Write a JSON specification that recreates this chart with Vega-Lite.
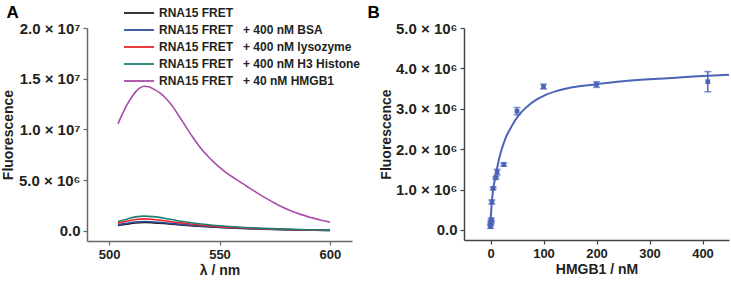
{
  "$schema": "https://vega.github.io/schema/vega-lite/v6.json",
  "padding": {"left": 1, "top": 4, "right": 2, "bottom": 2},
  "background": "white",
  "spacing": 15,
  "config": {
    "view": {"stroke": null},
    "font": "Liberation Sans",
    "axis": {
      "grid": false,
      "domainColor": "#666666",
      "domainWidth": 1.5,
      "tickColor": "#666666",
      "tickWidth": 1.2,
      "tickSize": 4,
      "labelFont": "Liberation Sans",
      "labelFontWeight": "bold",
      "labelFontSize": 13,
      "labelColor": "#231f20",
      "labelPadding": 3,
      "titleFont": "Liberation Sans",
      "titleFontWeight": "bold",
      "titleFontSize": 14,
      "titleColor": "#231f20"
    },
    "title": {"font": "Liberation Sans", "fontSize": 17, "fontWeight": "bold", "color": "#000000"}
  },
  "hconcat": [
    {
      "width": 265,
      "height": 213,
      "title": {"text": "A", "anchor": "start", "frame": "bounds", "offset": -1, "dx": 5},
      "data": {
        "values": [
          {"s": "RNA15 FRET", "w": 504, "f": 520000},
          {"s": "RNA15 FRET", "w": 508, "f": 660000},
          {"s": "RNA15 FRET", "w": 512, "f": 780000},
          {"s": "RNA15 FRET", "w": 516, "f": 820000},
          {"s": "RNA15 FRET", "w": 520, "f": 790000},
          {"s": "RNA15 FRET", "w": 525, "f": 720000},
          {"s": "RNA15 FRET", "w": 530, "f": 630000},
          {"s": "RNA15 FRET", "w": 535, "f": 540000},
          {"s": "RNA15 FRET", "w": 540, "f": 460000},
          {"s": "RNA15 FRET", "w": 550, "f": 330000},
          {"s": "RNA15 FRET", "w": 560, "f": 240000},
          {"s": "RNA15 FRET", "w": 570, "f": 170000},
          {"s": "RNA15 FRET", "w": 580, "f": 110000},
          {"s": "RNA15 FRET", "w": 590, "f": 70000},
          {"s": "RNA15 FRET", "w": 600, "f": 50000},

          {"s": "RNA15 FRET\u00a0\u00a0 + 400 nM BSA", "w": 504, "f": 590000},
          {"s": "RNA15 FRET\u00a0\u00a0 + 400 nM BSA", "w": 508, "f": 740000},
          {"s": "RNA15 FRET\u00a0\u00a0 + 400 nM BSA", "w": 512, "f": 870000},
          {"s": "RNA15 FRET\u00a0\u00a0 + 400 nM BSA", "w": 516, "f": 920000},
          {"s": "RNA15 FRET\u00a0\u00a0 + 400 nM BSA", "w": 520, "f": 880000},
          {"s": "RNA15 FRET\u00a0\u00a0 + 400 nM BSA", "w": 525, "f": 800000},
          {"s": "RNA15 FRET\u00a0\u00a0 + 400 nM BSA", "w": 530, "f": 690000},
          {"s": "RNA15 FRET\u00a0\u00a0 + 400 nM BSA", "w": 535, "f": 590000},
          {"s": "RNA15 FRET\u00a0\u00a0 + 400 nM BSA", "w": 540, "f": 500000},
          {"s": "RNA15 FRET\u00a0\u00a0 + 400 nM BSA", "w": 550, "f": 360000},
          {"s": "RNA15 FRET\u00a0\u00a0 + 400 nM BSA", "w": 560, "f": 260000},
          {"s": "RNA15 FRET\u00a0\u00a0 + 400 nM BSA", "w": 570, "f": 180000},
          {"s": "RNA15 FRET\u00a0\u00a0 + 400 nM BSA", "w": 580, "f": 120000},
          {"s": "RNA15 FRET\u00a0\u00a0 + 400 nM BSA", "w": 590, "f": 80000},
          {"s": "RNA15 FRET\u00a0\u00a0 + 400 nM BSA", "w": 600, "f": 50000},

          {"s": "RNA15 FRET\u00a0\u00a0 + 400 nM lysozyme", "w": 504, "f": 760000},
          {"s": "RNA15 FRET\u00a0\u00a0 + 400 nM lysozyme", "w": 508, "f": 950000},
          {"s": "RNA15 FRET\u00a0\u00a0 + 400 nM lysozyme", "w": 512, "f": 1120000},
          {"s": "RNA15 FRET\u00a0\u00a0 + 400 nM lysozyme", "w": 516, "f": 1180000},
          {"s": "RNA15 FRET\u00a0\u00a0 + 400 nM lysozyme", "w": 520, "f": 1120000},
          {"s": "RNA15 FRET\u00a0\u00a0 + 400 nM lysozyme", "w": 525, "f": 1000000},
          {"s": "RNA15 FRET\u00a0\u00a0 + 400 nM lysozyme", "w": 530, "f": 850000},
          {"s": "RNA15 FRET\u00a0\u00a0 + 400 nM lysozyme", "w": 535, "f": 720000},
          {"s": "RNA15 FRET\u00a0\u00a0 + 400 nM lysozyme", "w": 540, "f": 600000},
          {"s": "RNA15 FRET\u00a0\u00a0 + 400 nM lysozyme", "w": 550, "f": 420000},
          {"s": "RNA15 FRET\u00a0\u00a0 + 400 nM lysozyme", "w": 560, "f": 300000},
          {"s": "RNA15 FRET\u00a0\u00a0 + 400 nM lysozyme", "w": 570, "f": 210000},
          {"s": "RNA15 FRET\u00a0\u00a0 + 400 nM lysozyme", "w": 580, "f": 140000},
          {"s": "RNA15 FRET\u00a0\u00a0 + 400 nM lysozyme", "w": 590, "f": 90000},
          {"s": "RNA15 FRET\u00a0\u00a0 + 400 nM lysozyme", "w": 600, "f": 60000},

          {"s": "RNA15 FRET\u00a0\u00a0 + 400 nM H3 Histone", "w": 504, "f": 920000},
          {"s": "RNA15 FRET\u00a0\u00a0 + 400 nM H3 Histone", "w": 508, "f": 1150000},
          {"s": "RNA15 FRET\u00a0\u00a0 + 400 nM H3 Histone", "w": 512, "f": 1380000},
          {"s": "RNA15 FRET\u00a0\u00a0 + 400 nM H3 Histone", "w": 516, "f": 1450000},
          {"s": "RNA15 FRET\u00a0\u00a0 + 400 nM H3 Histone", "w": 520, "f": 1400000},
          {"s": "RNA15 FRET\u00a0\u00a0 + 400 nM H3 Histone", "w": 525, "f": 1250000},
          {"s": "RNA15 FRET\u00a0\u00a0 + 400 nM H3 Histone", "w": 530, "f": 1050000},
          {"s": "RNA15 FRET\u00a0\u00a0 + 400 nM H3 Histone", "w": 535, "f": 880000},
          {"s": "RNA15 FRET\u00a0\u00a0 + 400 nM H3 Histone", "w": 540, "f": 720000},
          {"s": "RNA15 FRET\u00a0\u00a0 + 400 nM H3 Histone", "w": 550, "f": 500000},
          {"s": "RNA15 FRET\u00a0\u00a0 + 400 nM H3 Histone", "w": 560, "f": 350000},
          {"s": "RNA15 FRET\u00a0\u00a0 + 400 nM H3 Histone", "w": 570, "f": 250000},
          {"s": "RNA15 FRET\u00a0\u00a0 + 400 nM H3 Histone", "w": 580, "f": 170000},
          {"s": "RNA15 FRET\u00a0\u00a0 + 400 nM H3 Histone", "w": 590, "f": 110000},
          {"s": "RNA15 FRET\u00a0\u00a0 + 400 nM H3 Histone", "w": 600, "f": 70000},

          {"s": "RNA15 FRET\u00a0\u00a0 + 40 nM HMGB1", "w": 504, "f": 10540000},
          {"s": "RNA15 FRET\u00a0\u00a0 + 40 nM HMGB1", "w": 506, "f": 11500000},
          {"s": "RNA15 FRET\u00a0\u00a0 + 40 nM HMGB1", "w": 508, "f": 12400000},
          {"s": "RNA15 FRET\u00a0\u00a0 + 40 nM HMGB1", "w": 510, "f": 13100000},
          {"s": "RNA15 FRET\u00a0\u00a0 + 40 nM HMGB1", "w": 512, "f": 13700000},
          {"s": "RNA15 FRET\u00a0\u00a0 + 40 nM HMGB1", "w": 514, "f": 14100000},
          {"s": "RNA15 FRET\u00a0\u00a0 + 40 nM HMGB1", "w": 516, "f": 14250000},
          {"s": "RNA15 FRET\u00a0\u00a0 + 40 nM HMGB1", "w": 518, "f": 14200000},
          {"s": "RNA15 FRET\u00a0\u00a0 + 40 nM HMGB1", "w": 520, "f": 14000000},
          {"s": "RNA15 FRET\u00a0\u00a0 + 40 nM HMGB1", "w": 523, "f": 13600000},
          {"s": "RNA15 FRET\u00a0\u00a0 + 40 nM HMGB1", "w": 526, "f": 13000000},
          {"s": "RNA15 FRET\u00a0\u00a0 + 40 nM HMGB1", "w": 529, "f": 12200000},
          {"s": "RNA15 FRET\u00a0\u00a0 + 40 nM HMGB1", "w": 532, "f": 11200000},
          {"s": "RNA15 FRET\u00a0\u00a0 + 40 nM HMGB1", "w": 535, "f": 10200000},
          {"s": "RNA15 FRET\u00a0\u00a0 + 40 nM HMGB1", "w": 538, "f": 9200000},
          {"s": "RNA15 FRET\u00a0\u00a0 + 40 nM HMGB1", "w": 541, "f": 8300000},
          {"s": "RNA15 FRET\u00a0\u00a0 + 40 nM HMGB1", "w": 545, "f": 7300000},
          {"s": "RNA15 FRET\u00a0\u00a0 + 40 nM HMGB1", "w": 549, "f": 6450000},
          {"s": "RNA15 FRET\u00a0\u00a0 + 40 nM HMGB1", "w": 553, "f": 5750000},
          {"s": "RNA15 FRET\u00a0\u00a0 + 40 nM HMGB1", "w": 557, "f": 5150000},
          {"s": "RNA15 FRET\u00a0\u00a0 + 40 nM HMGB1", "w": 562, "f": 4450000},
          {"s": "RNA15 FRET\u00a0\u00a0 + 40 nM HMGB1", "w": 567, "f": 3750000},
          {"s": "RNA15 FRET\u00a0\u00a0 + 40 nM HMGB1", "w": 572, "f": 3100000},
          {"s": "RNA15 FRET\u00a0\u00a0 + 40 nM HMGB1", "w": 577, "f": 2500000},
          {"s": "RNA15 FRET\u00a0\u00a0 + 40 nM HMGB1", "w": 582, "f": 2000000},
          {"s": "RNA15 FRET\u00a0\u00a0 + 40 nM HMGB1", "w": 587, "f": 1600000},
          {"s": "RNA15 FRET\u00a0\u00a0 + 40 nM HMGB1", "w": 592, "f": 1280000},
          {"s": "RNA15 FRET\u00a0\u00a0 + 40 nM HMGB1", "w": 596, "f": 1050000},
          {"s": "RNA15 FRET\u00a0\u00a0 + 40 nM HMGB1", "w": 600, "f": 860000}
        ]
      },
      "mark": {"type": "line", "strokeWidth": 1.6, "interpolate": "monotone"},
      "encoding": {
        "x": {
          "field": "w", "type": "quantitative",
          "scale": {"domain": [490, 610], "nice": false, "zero": false},
          "axis": {"values": [500, 550, 600], "title": "λ / nm", "titlePadding": 2}
        },
        "y": {
          "field": "f", "type": "quantitative",
          "scale": {"domain": [-1000000, 20000000], "nice": false},
          "axis": {
            "values": [0, 5000000, 10000000, 15000000, 20000000],
            "title": "Fluorescence",
            "titlePadding": 3,
            "labelFontSize": 15,
            "labelExpr": "datum.value == 0 ? '0.0' : datum.value < 10000000 ? format(datum.value / 1000000, '.1f') + ' × 10⁶' : format(datum.value / 10000000, '.1f') + ' × 10⁷'"
          }
        },
        "color": {
          "field": "s", "type": "nominal",
          "scale": {
            "domain": ["RNA15 FRET", "RNA15 FRET\u00a0\u00a0 + 400 nM BSA", "RNA15 FRET\u00a0\u00a0 + 400 nM lysozyme", "RNA15 FRET\u00a0\u00a0 + 400 nM H3 Histone", "RNA15 FRET\u00a0\u00a0 + 40 nM HMGB1"],
            "range": ["#231f20", "#2b4c9f", "#e8262a", "#1f7d74", "#a64ca8"]
          },
          "legend": {
            "orient": "none",
            "legendX": 45,
            "legendY": -22,
            "title": null,
            "symbolType": "M-2.5,0H2.5",
            "symbolSize": 144,
            "symbolStrokeWidth": 1.8,
            "labelFont": "Liberation Sans",
            "labelFontWeight": "bold",
            "labelFontSize": 12,
            "labelColor": "#231f20",
            "labelOffset": 13,
            "rowPadding": 4,
            "labelLimit": 300
          }
        }
      }
    },
    {
      "width": 265,
      "height": 212,
      "title": {"text": "B", "anchor": "start", "frame": "bounds", "offset": -1, "dx": -12},
      "layer": [
        {
          "data": {
            "values": [
              {"c": 0, "fit": 200000},
              {"c": 2, "fit": 600000},
              {"c": 5, "fit": 1000000},
              {"c": 8, "fit": 1230000},
              {"c": 12, "fit": 1500000},
              {"c": 16, "fit": 1750000},
              {"c": 20, "fit": 1950000},
              {"c": 25, "fit": 2150000},
              {"c": 30, "fit": 2320000},
              {"c": 40, "fit": 2570000},
              {"c": 50, "fit": 2780000},
              {"c": 60, "fit": 2940000},
              {"c": 75, "fit": 3120000},
              {"c": 90, "fit": 3250000},
              {"c": 105, "fit": 3350000},
              {"c": 125, "fit": 3440000},
              {"c": 150, "fit": 3520000},
              {"c": 175, "fit": 3570000},
              {"c": 200, "fit": 3610000},
              {"c": 250, "fit": 3680000},
              {"c": 300, "fit": 3730000},
              {"c": 350, "fit": 3770000},
              {"c": 400, "fit": 3810000},
              {"c": 450, "fit": 3840000}
            ]
          },
          "mark": {"type": "line", "color": "#4a64b8", "strokeWidth": 2, "interpolate": "monotone"},
          "encoding": {
            "x": {
              "field": "c", "type": "quantitative",
              "scale": {"domain": [-50, 450], "nice": false, "zero": false},
              "axis": {"values": [0, 100, 200, 300, 400], "title": "HMGB1 / nM", "titlePadding": 2, "domainColor": "#444444", "tickColor": "#444444"}
            },
            "y": {
              "field": "fit", "type": "quantitative",
              "title": "Fluorescence",
              "scale": {"domain": [-250000, 5000000], "nice": false},
              "axis": {
                "values": [0, 1000000, 2000000, 3000000, 4000000, 5000000],
                "titlePadding": 2,
                "labelFontSize": 15,
                "domainColor": "#444444",
                "tickColor": "#444444",
                "labelExpr": "datum.value == 0 ? '0.0' : format(datum.value / 1000000, '.1f') + ' × 10⁶'"
              }
            }
          }
        },
        {
          "data": {
            "values": [
              {"c": 0, "m": 80000, "lo": 40000, "hi": 120000},
              {"c": 0.5, "m": 150000, "lo": 110000, "hi": 190000},
              {"c": 1, "m": 200000, "lo": 160000, "hi": 240000},
              {"c": 1.5, "m": 250000, "lo": 210000, "hi": 290000},
              {"c": 2.5, "m": 690000, "lo": 640000, "hi": 740000},
              {"c": 5, "m": 1030000, "lo": 1000000, "hi": 1060000},
              {"c": 10, "m": 1290000, "lo": 1260000, "hi": 1320000},
              {"c": 12.5, "m": 1430000, "lo": 1360000, "hi": 1500000},
              {"c": 25, "m": 1620000, "lo": 1580000, "hi": 1660000},
              {"c": 50, "m": 2940000, "lo": 2850000, "hi": 3030000},
              {"c": 100, "m": 3550000, "lo": 3490000, "hi": 3610000},
              {"c": 200, "m": 3600000, "lo": 3530000, "hi": 3670000},
              {"c": 410, "m": 3670000, "lo": 3420000, "hi": 3920000}
            ]
          },
          "layer": [
            {
              "mark": {"type": "errorbar", "color": "#4a64b8", "thickness": 1.5, "ticks": {"size": 7, "thickness": 1.5}},
              "encoding": {
                "x": {"field": "c", "type": "quantitative"},
                "y": {"field": "lo", "type": "quantitative", "title": "Fluorescence"},
                "y2": {"field": "hi"}
              }
            },
            {
              "mark": {"type": "point", "shape": "square", "filled": true, "color": "#4a64b8", "opacity": 1, "size": 22},
              "encoding": {
                "x": {"field": "c", "type": "quantitative"},
                "y": {"field": "m", "type": "quantitative", "title": "Fluorescence"}
              }
            }
          ]
        }
      ]
    }
  ]
}
